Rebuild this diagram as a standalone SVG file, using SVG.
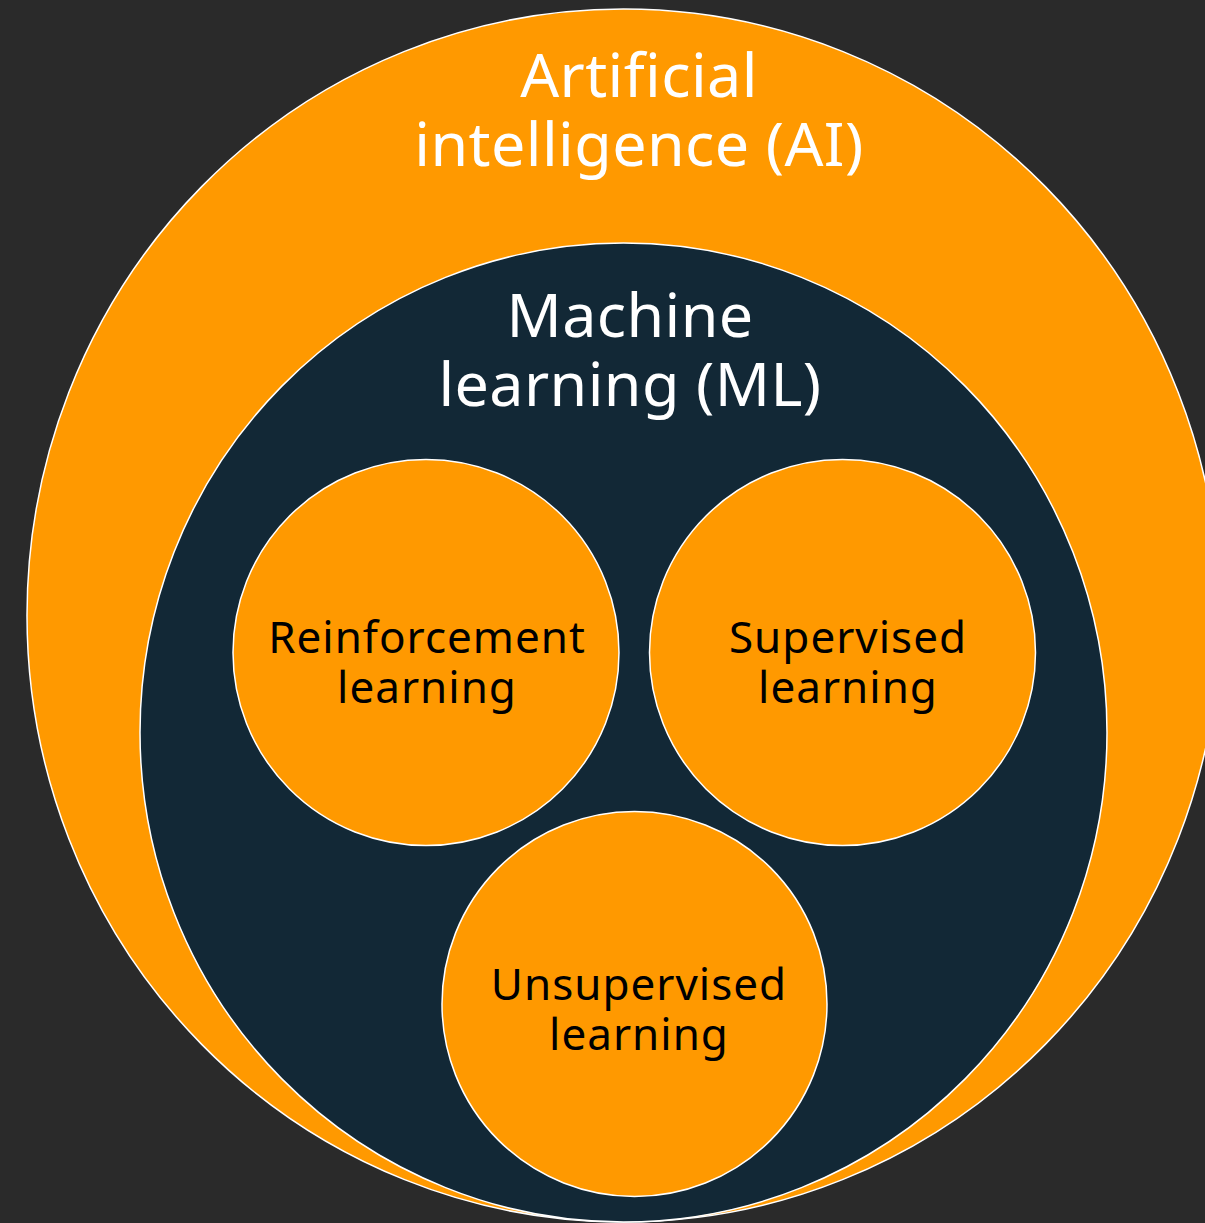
<svg xmlns="http://www.w3.org/2000/svg" width="1205" height="1223" viewBox="0 0 1205 1223">
<style>
.bg{fill:#2a2a2a}
.org{fill:#ff9900;stroke:#ffffff;stroke-width:1.5}
.navy{fill:#122836;stroke:#ffffff;stroke-width:1.5}
.big{font-family:"Noto Sans","Open Sans","DejaVu Sans",sans-serif;font-size:61px;fill:#ffffff;text-anchor:middle;letter-spacing:0.4px}
.small{font-family:"Noto Sans","Open Sans","DejaVu Sans",sans-serif;font-size:44px;fill:#000000;text-anchor:middle;letter-spacing:1px}
</style>
<rect class="bg" x="0" y="0" width="1205" height="1223"/>
<g id="ai">
<ellipse class="org" cx="623.5" cy="615.5" rx="596.5" ry="606.5"/>
<text class="big" x="639" y="97">Artificial<tspan x="639" dy="69">intelligence (AI)</tspan></text>
</g>
<g id="ml">
<ellipse class="navy" cx="623.5" cy="732.5" rx="483.5" ry="489.5"/>
<text class="big" x="630" y="337">Machine<tspan x="630" dy="69">learning (ML)</tspan></text>
</g>
<g id="reinforcement">
<circle class="org" cx="426" cy="652.5" r="193"/>
<text class="small" x="427" y="653">Reinforcement<tspan x="427" dy="50">learning</tspan></text>
</g>
<g id="supervised">
<circle class="org" cx="842.5" cy="652.5" r="193"/>
<text class="small" x="848" y="653">Supervised<tspan x="848" dy="50">learning</tspan></text>
</g>
<g id="unsupervised">
<circle class="org" cx="634.5" cy="1004" r="192.5"/>
<text class="small" x="639" y="1000">Unsupervised<tspan x="639" dy="50">learning</tspan></text>
</g>
<g id="connectors"/>
</svg>
